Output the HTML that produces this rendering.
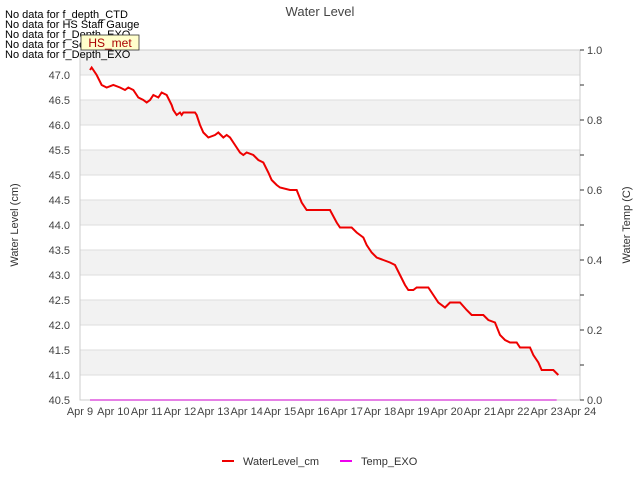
<!DOCTYPE html>
<html><head><meta charset="utf-8"><style>
body{margin:0;background:#fff;font-family:"Liberation Sans",sans-serif}
svg text{font-family:"Liberation Sans",sans-serif}
</style></head><body>
<svg width="640" height="480" id="c">
<text x="320" y="16" text-anchor="middle" font-size="13" fill="#444">Water Level</text>
<g id="plot"></g>
<g font-size="11" fill="#000">
<text x="5" y="18">No data for f_depth_CTD</text>
<text x="5" y="28">No data for HS Staff Gauge</text>
<text x="5" y="38">No data for f_Depth_EXO</text>
<text x="5" y="48">No data for f_SonicRng</text>
<text x="5" y="58">No data for f_Depth_EXO</text>
</g>
<g>
<rect x="81" y="35" width="58" height="15" fill="#ffffcc" stroke="#333" stroke-width="0.8"/>
<text x="110" y="47" text-anchor="middle" font-size="12" fill="#a00">HS_met</text>
</g>
<text x="18" y="225" transform="rotate(-90 18 225)" text-anchor="middle" font-size="11" fill="#333">Water Level (cm)</text>
<text x="630" y="225" transform="rotate(-90 630 225)" text-anchor="middle" font-size="11" fill="#333">Water Temp (C)</text>
<g>
<g><line x1="222" y1="461" x2="234" y2="461" stroke="#e00" stroke-width="2"/><text x="243" y="465" font-size="11" fill="#333">WaterLevel_cm</text></g>
<g><line x1="340" y1="461" x2="352" y2="461" stroke="#e0e" stroke-width="2"/><text x="361" y="465" font-size="11" fill="#333">Temp_EXO</text></g>
</g>
</svg>
<script>
const xLabels=["Apr 9","Apr 10","Apr 11","Apr 12","Apr 13","Apr 14","Apr 15","Apr 16","Apr 17","Apr 18","Apr 19","Apr 20","Apr 21","Apr 22","Apr 23","Apr 24"];
const yTicks=[40.5,41.0,41.5,42.0,42.5,43.0,43.5,44.0,44.5,45.0,45.5,46.0,46.5,47.0];
const rTicks=[0.0,0.2,0.4,0.6,0.8,1.0];
const wlDays=[0.3,0.35,0.5,0.65,0.8,1.0,1.2,1.35,1.45,1.6,1.75,1.9,2.0,2.1,2.2,2.35,2.45,2.6,2.75,2.8,2.9,3.0,3.05,3.1,3.45,3.5,3.6,3.7,3.85,4.05,4.15,4.3,4.4,4.5,4.65,4.8,4.9,5.0,5.2,5.35,5.5,5.65,5.75,5.9,6.0,6.3,6.5,6.65,6.8,7.5,7.7,7.8,8.15,8.3,8.5,8.6,8.75,8.9,9.1,9.3,9.45,9.6,9.75,9.85,10.0,10.1,10.45,10.6,10.75,10.95,11.1,11.4,11.6,11.75,12.1,12.25,12.45,12.6,12.75,12.9,13.1,13.2,13.5,13.6,13.75,13.85,14.2,14.35];
const wlVals=[47.1,47.15,47.0,46.8,46.75,46.8,46.75,46.7,46.75,46.7,46.55,46.5,46.45,46.5,46.6,46.55,46.65,46.6,46.4,46.3,46.2,46.25,46.2,46.25,46.25,46.2,46.0,45.85,45.75,45.8,45.85,45.75,45.8,45.75,45.6,45.45,45.4,45.45,45.4,45.3,45.25,45.05,44.9,44.8,44.75,44.7,44.7,44.45,44.3,44.3,44.05,43.95,43.95,43.85,43.75,43.6,43.45,43.35,43.3,43.25,43.2,43.0,42.8,42.7,42.7,42.75,42.75,42.6,42.45,42.35,42.45,42.45,42.3,42.2,42.2,42.1,42.05,41.8,41.7,41.65,41.65,41.55,41.55,41.4,41.25,41.1,41.1,41.0];
const tempDays=[0.3,14.3];
const tempVals=[0.0,0.0];
const L=80,R=580,T=50,B=400;
const X=d=>L+d*(R-L)/15;
const Y=v=>B-(v-40.5)*(B-T)/7;
const YR=v=>B-v*(B-T);
const NS="http://www.w3.org/2000/svg";
const g=document.getElementById('plot');
function mk(t,a,p){const e=document.createElementNS(NS,t);for(const k in a)e.setAttribute(k,a[k]);(p||g).appendChild(e);return e;}
for(let v=40.5;v<47.5;v+=0.5){const i=Math.round((v-40.5)/0.5);if(i%2===1){const r=mk('rect',{x:L,y:Y(v+0.5),width:R-L,height:Y(v)-Y(v+0.5),fill:'#f2f2f2'});

}}
yTicks.forEach(v=>{const l=mk('line',{x1:L,x2:R,y1:Y(v),y2:Y(v),stroke:'#ddd'});


const t=mk('text',{x:L-10,y:Y(v)+4,'text-anchor':'end','font-size':11,fill:'#444'});t.textContent=v.toFixed(1);

});
mk('rect',{x:L,y:T,width:R-L,height:B-T,fill:'none',stroke:'#ccc'});
xLabels.forEach((s,i)=>{const t=mk('text',{x:X(i),y:B+15,'text-anchor':'middle','font-size':11,fill:'#444'});t.textContent=s;

});
for(let k=0;k<=10;k++){mk('line',{x1:R,x2:R+4,y1:YR(k/10),y2:YR(k/10),stroke:'#333'});}
rTicks.forEach(v=>{const t=mk('text',{x:R+7,y:YR(v)+4,'font-size':11,fill:'#444'});t.textContent=v.toFixed(1);

});
const tp=mk('polyline',{points:tempDays.map((d,i)=>X(d)+','+YR(tempVals[i])).join(' '),fill:'none',stroke:'#c0c',"stroke-width":1});


const pts=wlDays.map((d,i)=>X(d)+','+Y(wlVals[i]));
const wl=mk('polyline',{points:pts.join(' '),fill:'none',stroke:'#e00','stroke-width':2});


</script>
</body></html>
